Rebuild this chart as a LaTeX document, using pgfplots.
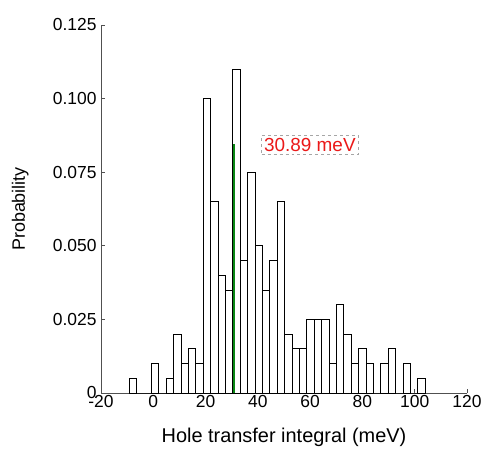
\documentclass[border=0pt]{standalone}
\usepackage{pgfplots}
\pgfplotsset{compat=1.18}
\usepackage{fontspec}
\setmainfont{Liberation Sans}
\definecolor{meangreen}{RGB}{10,135,20}
\definecolor{axisgray}{RGB}{80,80,80}
\definecolor{labelred}{RGB}{235,25,25}

\begin{document}
\begin{tikzpicture}[x=1bp,y=1bp]
\path[use as bounding box] (0,0) rectangle (488,452);
\begin{axis}[
  at={(101bp,59bp)}, anchor=south west,
  scale only axis, width=366bp, height=368bp,
  xmin=-20, xmax=120, ymin=0, ymax=0.125,
  axis x line=bottom, axis y line=left,
  axis line style={axisgray, line width=0.9bp, -},
  xtick={-20,0,20,40,60,80,100,120},
  xticklabels={-20,0,20,40,60,80,100,120},
  ytick={0,0.025,0.05,0.075,0.1,0.125},
  yticklabels={0,0.025,0.050,0.075,0.100,0.125},
  tick align=inside, major tick length=4bp,
  tick style={axisgray, line width=0.8bp},
  ticklabel style={font=\fontsize{17.5}{20}\selectfont, text=black},
  xticklabel style={yshift=1bp},
  yticklabel style={xshift=-1bp},
  xlabel={Hole transfer integral (meV)},
  ylabel={Probability},
  label style={font=\fontsize{20}{24}\selectfont},
  xlabel style={at={(axis description cs:0.5,-0.12)}, anchor=center},
  ylabel style={at={(axis description cs:-0.221,0.5)}, anchor=center, font=\fontsize{18}{22}\selectfont},
  clip=false,
]
% histogram of the transfer integrals (left bin edges, last entry closes the final bin)
\addplot[ybar interval, fill=white, draw=black, line width=0.8bp] coordinates {
  (-9.20,0.005) (-6.37,0) (-3.54,0) (-0.71,0.010) (2.12,0) (4.95,0.005)
  (7.78,0.020) (10.61,0.010) (13.44,0.015) (16.27,0.010) (19.10,0.100)
  (21.93,0.065) (24.76,0.040) (27.59,0.035) (30.42,0.110) (33.25,0.045)
  (36.08,0.075) (38.91,0.050) (41.74,0.035) (44.57,0.045) (47.40,0.065)
  (50.23,0.020) (53.06,0.015) (55.89,0.015) (58.72,0.025) (61.55,0.025)
  (64.38,0.025) (67.21,0.010) (70.04,0.030) (72.87,0.020) (75.70,0.010)
  (78.53,0.015) (81.36,0.010) (84.19,0) (87.02,0.010) (89.85,0.015)
  (92.68,0) (95.51,0.010) (98.34,0) (101.17,0.005) (104.00,0.005)
};
% mean value of the distribution
\addplot[meangreen, line width=2.6bp] coordinates {(30.89,0) (30.89,0.0845)};
\node[draw=gray!70, dashed, line width=0.7bp, text=labelred, fill=white,
      font=\fontsize{19}{22}\selectfont, inner xsep=2.5bp, inner ysep=3bp]
  at (axis cs:59.9,0.0842) {30.89 meV};
\end{axis}
\end{tikzpicture}
\end{document}
